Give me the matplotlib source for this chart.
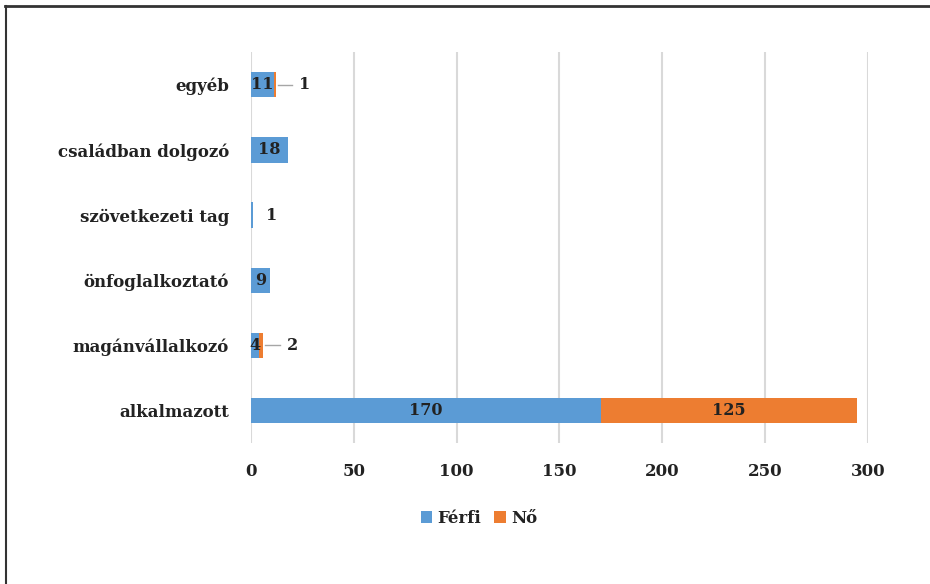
import numpy as np
import matplotlib
matplotlib.use('Agg')
import matplotlib.pyplot as plt
from matplotlib.lines import Line2D

categories = ['alkalmazott', 'magánvállalkozó', 'önfoglalkoztató',
              'szövetkezeti tag', 'családban dolgozó', 'egyéb']
ferfi = [170, 4, 9, 1, 18, 11]
no = [125, 2, 0, 0, 0, 1]
x_ticks = [0, 50, 100, 150, 200, 250, 300]

blue = '#5B9BD5'
orange = '#ED7D31'
plt.rcParams['font.family'] = ['DejaVu Serif']

fig = plt.figure(figsize=(9.3, 5.84), dpi=100)
ax = fig.add_axes([0.27, 0.241, 0.663, 0.67])

y = np.arange(len(categories))
h = 0.39
ax.barh(y, ferfi, height=h, color=blue, label='Férfi', zorder=3)
ax.barh(y, no, height=h, left=ferfi, color=orange, label='Nő', zorder=3)

fs = 11.5
for i in range(len(categories)):
    f, n = ferfi[i], no[i]
    if f >= 4:
        ax.text(f / 2, i, str(f), ha='center', va='center', fontsize=fs,
                fontweight='bold', color='#222222', zorder=4)
    elif f > 0:
        # tiny bar, label pushed to the right
        ax.text(f + 9, i, str(f), ha='center', va='center', fontsize=fs,
                fontweight='bold', color='#222222', zorder=4)
    if n >= 20:
        ax.text(f + n / 2, i, str(n), ha='center', va='center', fontsize=fs,
                fontweight='bold', color='#222222', zorder=4)
    elif n > 0:
        end = f + n
        ax.plot([end + 1, end + 8], [i, i], color='#A6A6A6', lw=1, zorder=4)
        ax.text(end + 14, i, str(n), ha='center', va='center', fontsize=fs,
                fontweight='bold', color='#222222', zorder=4)

ax.set_xlim(0, 300)
ax.set_ylim(-0.5, len(categories) - 0.5)
ax.set_xticks(x_ticks)
ax.set_yticks(y)
ax.set_yticklabels(categories, fontsize=12, fontweight='bold', color='#222222')
ax.set_xticklabels([str(t) for t in x_ticks], fontsize=12, fontweight='bold', color='#222222')
ax.tick_params(length=0, pad=14, axis='x')
ax.tick_params(length=0, pad=16, axis='y')
ax.grid(axis='x', color='#D9D9D9', lw=1.5, zorder=0)
for s in ax.spines.values():
    s.set_visible(False)

leg = fig.legend(loc='center', bbox_to_anchor=(0.515, 0.112), ncol=2, frameon=False,
                 handlelength=0.7, handleheight=0.7, handletextpad=0.3, columnspacing=0.8,
                 prop={'size': 12, 'weight': 'bold'})
for t in leg.get_texts():
    t.set_color('#222222')

# frame lines of the figure box
fig.add_artist(Line2D([0.005, 1], [0.989, 0.989], color='#333333', lw=2, transform=fig.transFigure))
fig.add_artist(Line2D([0.006, 0.006], [0, 0.989], color='#333333', lw=1.5, transform=fig.transFigure))

fig.savefig('out.png', dpi=100)
